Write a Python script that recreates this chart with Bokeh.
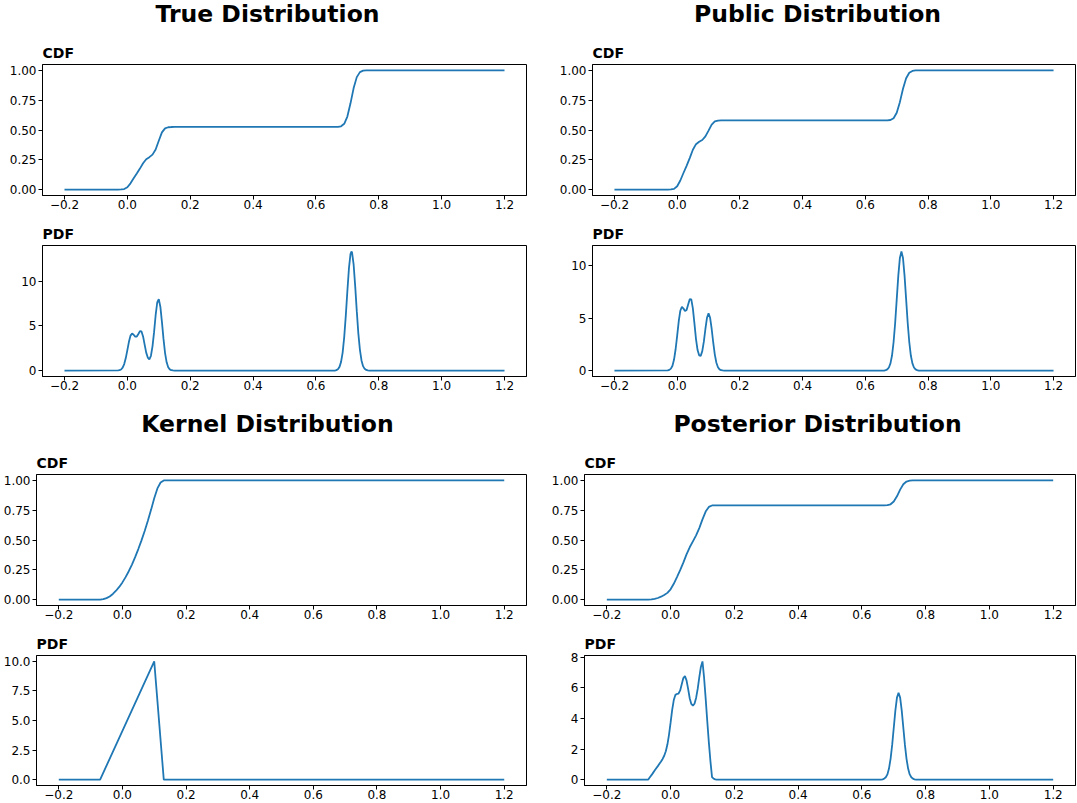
from bokeh.plotting import figure
from bokeh.layouts import column, row
from bokeh.models import FixedTicker, CustomJSTickFormatter, Range1d
from bokeh.embed import file_html
from bokeh.resources import INLINE
from bokeh.core.properties import value

LINE_COLOR = "#1f77b4"
FONT = "DejaVu Sans"

# ---------------------------------------------------------------- data
X_TICKS = [-0.2, 0.0, 0.2, 0.4, 0.6, 0.8, 1.0, 1.2]
CDF_TICKS = [0.0, 0.25, 0.5, 0.75, 1.0]

# sample locations around the left cluster and the right bump
PDF_GRID_LEFT = [-0.030, -0.025, -0.020, -0.015, -0.010, -0.005, 0.000, 0.005,
                 0.010, 0.015, 0.020, 0.025, 0.030, 0.035, 0.040, 0.045, 0.050,
                 0.055, 0.060, 0.065, 0.070, 0.075, 0.080, 0.085, 0.090, 0.095,
                 0.100, 0.105, 0.110, 0.115, 0.120, 0.125, 0.130, 0.135, 0.140,
                 0.145, 0.150]
PDF_GRID_RIGHT = [0.660, 0.665, 0.670, 0.675, 0.680, 0.685, 0.690, 0.695, 0.700,
                  0.705, 0.710, 0.715, 0.720, 0.725, 0.730, 0.735, 0.740, 0.745,
                  0.750, 0.755, 0.760, 0.765, 0.770]
CDF_GRID_LEFT = [-0.03, -0.02, -0.01, 0.00, 0.01, 0.02, 0.03, 0.04, 0.05, 0.06,
                 0.07, 0.08, 0.09, 0.10, 0.11, 0.12, 0.13, 0.14, 0.15]
CDF_GRID_RIGHT = [0.66, 0.67, 0.68, 0.69, 0.70, 0.71, 0.72, 0.73, 0.74, 0.75,
                  0.76, 0.77]

# True distribution
true_pdf_left = [0.01, 0.04, 0.12, 0.32, 0.72, 1.39, 2.28, 3.21, 3.90, 4.14,
                 4.00, 3.79, 3.80, 4.09, 4.39, 4.36, 3.81, 2.90, 2.00, 1.45,
                 1.25, 1.65, 2.70, 4.29, 6.18, 7.60, 7.97, 7.13, 5.43, 3.53,
                 1.95, 0.92, 0.37, 0.13, 0.04, 0.01, 0.00]
true_pdf_right_x = [0.660, 0.665, 0.670, 0.675, 0.680, 0.685, 0.690, 0.695, 0.700,
                    0.705, 0.710, 0.713, 0.715, 0.720, 0.725, 0.730, 0.735, 0.740,
                    0.745, 0.750, 0.755, 0.760, 0.765, 0.770]
true_pdf_right = [0.00, 0.05, 0.15, 0.41, 0.97, 2.01, 3.73, 6.10, 8.85, 11.40,
                  13.02, 13.30, 13.17, 11.82, 9.40, 6.63, 4.13, 2.31, 1.13, 0.49,
                  0.19, 0.07, 0.02, 0.00]
true_cdf_left = [0.000, 0.001, 0.004, 0.019, 0.052, 0.094, 0.134, 0.176, 0.221,
                 0.255, 0.272, 0.293, 0.336, 0.410, 0.480, 0.514, 0.523, 0.525,
                 0.526]
true_cdf_right = [0.526, 0.527, 0.531, 0.552, 0.613, 0.724, 0.852, 0.944, 0.986,
                  0.998, 1.000, 1.000]

# Public distribution
public_pdf_left = [0.01, 0.06, 0.18, 0.46, 1.05, 2.03, 3.33, 4.70, 5.70, 6.08,
                   5.91, 5.67, 5.77, 6.29, 6.80, 6.78, 5.93, 4.50, 3.00, 1.95,
                   1.45, 1.40, 1.85, 2.75, 3.96, 5.03, 5.45, 5.03, 3.96, 2.65,
                   1.52, 0.74, 0.31, 0.11, 0.03, 0.01, 0.00]
public_pdf_right = [0.00, 0.04, 0.11, 0.29, 0.68, 1.43, 2.72, 4.53, 6.78, 9.02,
                    10.72, 11.35, 10.72, 9.02, 6.78, 4.53, 2.72, 1.43, 0.68, 0.29,
                    0.11, 0.04, 0.00]
public_cdf_left = [0.000, 0.001, 0.006, 0.028, 0.076, 0.139, 0.199, 0.264, 0.334,
                   0.381, 0.401, 0.416, 0.446, 0.495, 0.545, 0.572, 0.579, 0.580,
                   0.580]
public_cdf_right = [0.580, 0.580, 0.584, 0.599, 0.645, 0.734, 0.846, 0.935, 0.981,
                    0.996, 1.000, 1.000]

# Kernel distribution (triangular)
kernel_pdf_x = [-0.2, -0.07, 0.10, 0.13, 1.2]
kernel_pdf_y = [0.0, 0.0, 10.0, 0.0, 0.0]
kernel_cdf_x = [-0.2, -0.07, -0.06, -0.05, -0.04, -0.03, -0.02, -0.01, 0.00, 0.01,
                0.02, 0.03, 0.04, 0.05, 0.06, 0.07, 0.08, 0.09, 0.10, 0.11, 0.12,
                0.13, 1.2]
kernel_cdf_y = [0.0, 0.0, 0.003, 0.012, 0.026, 0.047, 0.074, 0.106, 0.144, 0.188,
                0.238, 0.294, 0.356, 0.424, 0.497, 0.576, 0.662, 0.753, 0.850,
                0.933, 0.983, 1.0, 1.0]

# Posterior distribution
posterior_pdf_left_x = [-0.070, -0.065, -0.060, -0.055, -0.050, -0.045, -0.040,
                        -0.035, -0.030, -0.025, -0.020, -0.015, -0.010, -0.005,
                        0.000, 0.005, 0.010, 0.015, 0.020, 0.025, 0.030, 0.035,
                        0.040, 0.045, 0.050, 0.055, 0.060, 0.065, 0.070, 0.075,
                        0.080, 0.085, 0.090, 0.095, 0.100, 0.105, 0.110, 0.115,
                        0.120, 0.125, 0.130, 0.135, 0.140, 0.145]
posterior_pdf_left = [0.00, 0.15, 0.29, 0.44, 0.59, 0.74, 0.88, 1.03, 1.18, 1.35,
                      1.56, 1.85, 2.29, 2.93, 3.72, 4.56, 5.20, 5.54, 5.60, 5.63,
                      5.83, 6.23, 6.64, 6.77, 6.49, 5.93, 5.32, 4.95, 4.84, 4.96,
                      5.34, 5.93, 6.69, 7.37, 7.73, 6.68, 5.31, 3.83, 2.43, 1.20,
                      0.16, 0.06, 0.02, 0.00]
posterior_pdf_right = [0.00, 0.02, 0.06, 0.15, 0.34, 0.72, 1.36, 2.27, 3.39, 4.51,
                       5.36, 5.68, 5.36, 4.51, 3.39, 2.27, 1.36, 0.72, 0.34, 0.15,
                       0.06, 0.02, 0.00]
posterior_cdf_left_x = [-0.07, -0.06, -0.05, -0.04, -0.03, -0.02, -0.01, 0.00,
                        0.01, 0.02, 0.03, 0.04, 0.05, 0.06, 0.07, 0.08, 0.09,
                        0.10, 0.11, 0.12, 0.13, 0.14]
posterior_cdf_left = [0.000, 0.001, 0.006, 0.013, 0.024, 0.038, 0.056, 0.086,
                      0.132, 0.189, 0.247, 0.310, 0.379, 0.439, 0.489, 0.539,
                      0.600, 0.673, 0.739, 0.778, 0.790, 0.790]
posterior_cdf_right = [0.790, 0.790, 0.792, 0.800, 0.823, 0.867, 0.923, 0.968,
                       0.991, 0.998, 1.000, 1.000]

true_pdf_x = [-0.2] + PDF_GRID_LEFT + true_pdf_right_x + [1.2]
true_pdf_y = [0.0] + true_pdf_left + true_pdf_right + [0.0]
true_cdf_x = [-0.2] + CDF_GRID_LEFT + CDF_GRID_RIGHT + [1.2]
true_cdf_y = [0.0] + true_cdf_left + true_cdf_right + [1.0]

public_pdf_x = [-0.2] + PDF_GRID_LEFT + PDF_GRID_RIGHT + [1.2]
public_pdf_y = [0.0] + public_pdf_left + public_pdf_right + [0.0]
public_cdf_x = [-0.2] + CDF_GRID_LEFT + CDF_GRID_RIGHT + [1.2]
public_cdf_y = [0.0] + public_cdf_left + public_cdf_right + [1.0]

posterior_pdf_x = [-0.2] + posterior_pdf_left_x + PDF_GRID_RIGHT + [1.2]
posterior_pdf_y = [0.0] + posterior_pdf_left + posterior_pdf_right + [0.0]
posterior_cdf_x = [-0.2] + posterior_cdf_left_x + CDF_GRID_RIGHT + [1.2]
posterior_cdf_y = [0.0] + posterior_cdf_left + posterior_cdf_right + [1.0]


# ---------------------------------------------------------------- helpers
def fmt(decimals):
    return CustomJSTickFormatter(
        code="return tick.toFixed(%d).replace('-', '\u2212');" % decimals)


def panel(label, xs, ys, yticks, ydec, width, height, left, right, top, bottom):
    x0, x1 = min(xs), max(xs)
    y0, y1 = min(ys), max(ys)
    xp, yp = 0.05 * (x1 - x0), 0.05 * (y1 - y0)
    p = figure(width=width, height=height, output_backend="svg",
               toolbar_location=None,
               x_range=Range1d(x0 - xp, x1 + xp),
               y_range=Range1d(y0 - yp, y1 + yp),
               min_border_left=left, min_border_right=right,
               min_border_top=top, min_border_bottom=bottom)
    p.title.text = label
    p.title.align = "left"
    p.title.text_font = FONT
    p.title.text_font_size = "14px"
    p.title.text_font_style = "bold"
    p.title.text_color = "black"
    p.title.standoff = 8
    p.xgrid.visible = False
    p.ygrid.visible = False
    p.outline_line_color = "black"
    p.outline_line_alpha = 1.0
    p.outline_line_width = 1
    p.background_fill_color = "white"
    p.border_fill_color = "white"

    p.xaxis.ticker = FixedTicker(ticks=X_TICKS)
    p.xaxis.formatter = fmt(1)
    p.yaxis.ticker = FixedTicker(ticks=yticks)
    p.yaxis.formatter = fmt(ydec)
    for ax in (p.xaxis[0], p.yaxis[0]):
        ax.axis_line_color = "black"
        ax.axis_line_width = 1
        ax.major_tick_line_color = "black"
        ax.major_tick_line_width = 1
        ax.major_tick_out = 4
        ax.major_tick_in = 0
        ax.minor_tick_line_color = None
        ax.major_label_text_font = FONT
        ax.major_label_text_font_size = "12px"
        ax.major_label_text_color = "black"
    p.xaxis[0].major_label_standoff = 0
    p.yaxis[0].major_label_standoff = 2

    p.line(xs, ys, line_color=LINE_COLOR, line_width=1.8)
    return p


def heading(height, ypos, labels):
    p = figure(width=1077, height=height, output_backend="svg",
               toolbar_location=None, x_axis_type=None, y_axis_type=None,
               x_range=Range1d(0, 1077), y_range=Range1d(height, 0),
               min_border=0, min_border_left=0, min_border_right=0,
               min_border_top=0, min_border_bottom=0)
    p.outline_line_color = None
    p.xgrid.visible = False
    p.ygrid.visible = False
    p.background_fill_color = "white"
    p.border_fill_color = "white"
    p.text(x=[267, 817], y=[ypos, ypos], text=labels,
           text_font=value(FONT), text_font_size="23.5px",
           text_font_style="bold", text_color="black",
           text_align="center", text_baseline="middle")
    return p


# ---------------------------------------------------------------- layout
top_head = heading(36, 13, ["True Distribution", "Public Distribution"])
bottom_head = heading(46, 23, ["Kernel Distribution", "Posterior Distribution"])

true_cdf = panel("CDF", true_cdf_x, true_cdf_y, CDF_TICKS, 2, 538, 182, 42, 12, 28, 23)
true_pdf = panel("PDF", true_pdf_x, true_pdf_y, [0, 5, 10], 0, 538, 182, 42, 12, 27, 24)
public_cdf = panel("CDF", public_cdf_x, public_cdf_y, CDF_TICKS, 2, 539, 182, 54, 2, 28, 23)
public_pdf = panel("PDF", public_pdf_x, public_pdf_y, [0, 5, 10], 0, 539, 182, 54, 2, 27, 24)

kernel_cdf = panel("CDF", kernel_cdf_x, kernel_cdf_y, CDF_TICKS, 2, 538, 182, 35, 12, 28, 23)
kernel_pdf = panel("PDF", kernel_pdf_x, kernel_pdf_y, [0.0, 2.5, 5.0, 7.5, 10.0], 1,
                   538, 175, 35, 12, 27, 18)
posterior_cdf = panel("CDF", posterior_cdf_x, posterior_cdf_y, CDF_TICKS, 2,
                      539, 182, 46, 2, 28, 23)
posterior_pdf = panel("PDF", posterior_pdf_x, posterior_pdf_y, [0, 2, 4, 6, 8], 0,
                      539, 175, 46, 2, 27, 18)

page = column(
    top_head,
    row(true_cdf, public_cdf),
    row(true_pdf, public_pdf),
    bottom_head,
    row(kernel_cdf, posterior_cdf),
    row(kernel_pdf, posterior_pdf),
)

with open("out.html", "w") as f:
    f.write(file_html(page, INLINE))
